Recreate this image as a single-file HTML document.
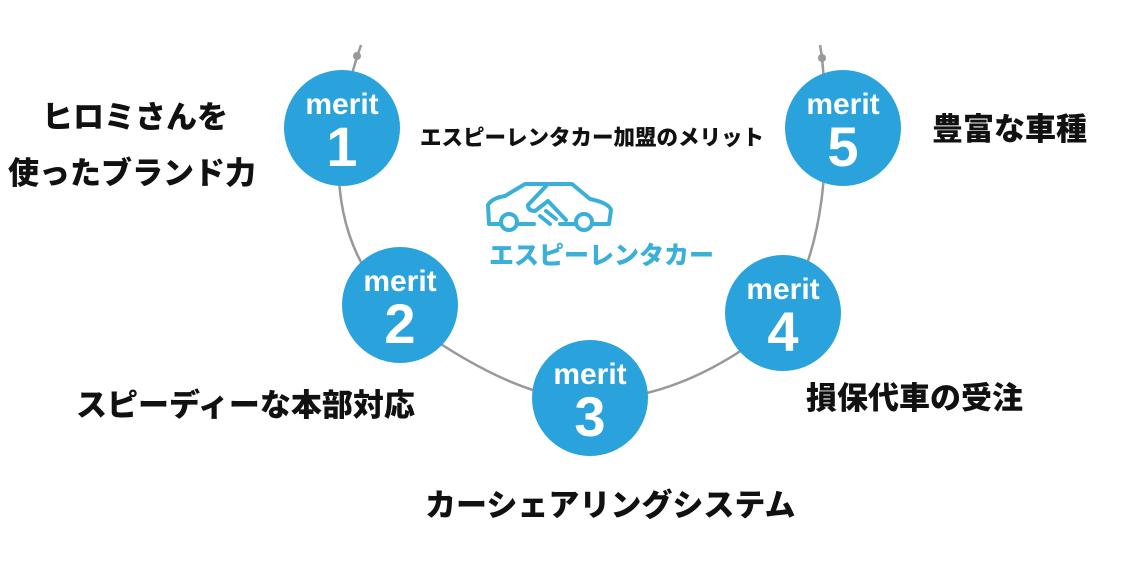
<!DOCTYPE html>
<html><head><meta charset="utf-8"><style>
body{margin:0;width:1136px;height:562px;background:#fff;position:relative;overflow:hidden;font-family:"Liberation Sans","Noto Sans CJK JP",sans-serif}
.c{position:absolute;width:116px;height:116px;border-radius:50%;background:#2aa3dc;color:#fff;text-align:center;font-weight:bold}
.c .m{position:absolute;top:18px;width:100%;font-size:30px}
.c .n{position:absolute;top:44px;width:100%;font-size:56px}
.t{position:absolute;font-weight:900;color:#111;white-space:nowrap}
</style></head><body>
<svg width="1136" height="562" style="position:absolute;left:0;top:0">
<path d="M361 45 L357 57 Q300 240 420 330 Q520 400 590 400 Q680 400 770 330 Q840 250 822 57 L820 45" fill="none" stroke="#999" stroke-width="2.5"/>
<circle cx="357" cy="56" r="4" fill="#999"/><circle cx="822" cy="58" r="4" fill="#999"/>
<g fill="none" stroke="#3ab0d8" stroke-width="4" stroke-linecap="round" stroke-linejoin="round">
<path d="M500 224 L489 224 L488 205 Q492 198 505 196 L525 184 L548 184"/>
<path d="M518 224 L534 224"/><path d="M560 224 L574 224"/><path d="M594 224 L609 224 L611 210 Q609 203 590 199 L572 184 L548 184 L528 205 Q528 211 535 211 L548 201 L566 220"/>
<path d="M540 216 L550 224"/><path d="M546 211 L556 219"/>
<circle cx="509" cy="222" r="8"/><circle cx="584" cy="222" r="8"/>
</g>
</svg>
<div class="t" style="left:489px;top:236px;font-size:25px;color:#3ab0d8">エスピーレンタカー</div>
<div class="c" style="left:284px;top:70px"><div class="m">merit</div><div class="n">1</div></div>
<div class="c" style="left:342px;top:247px"><div class="m">merit</div><div class="n">2</div></div>
<div class="c" style="left:532px;top:340px"><div class="m">merit</div><div class="n">3</div></div>
<div class="c" style="left:725px;top:255px"><div class="m">merit</div><div class="n">4</div></div>
<div class="c" style="left:785px;top:70px"><div class="m">merit</div><div class="n">5</div></div>
<div class="t" style="left:420px;top:121px;font-size:21.5px">エスピーレンタカー加盟のメリット</div>
<div class="t" style="left:42px;top:92px;font-size:31px">ヒロミさんを</div>
<div class="t" style="left:8px;top:148px;font-size:31px">使ったブランド力</div>
<div class="t" style="left:932px;top:104px;font-size:31px">豊富な車種</div>
<div class="t" style="left:76px;top:380px;font-size:31px">スピーディーな本部対応</div>
<div class="t" style="left:806px;top:373px;font-size:31px">損保代車の受注</div>
<div class="t" style="left:425px;top:480px;font-size:31px">カーシェアリングシステム</div>
</body></html>
